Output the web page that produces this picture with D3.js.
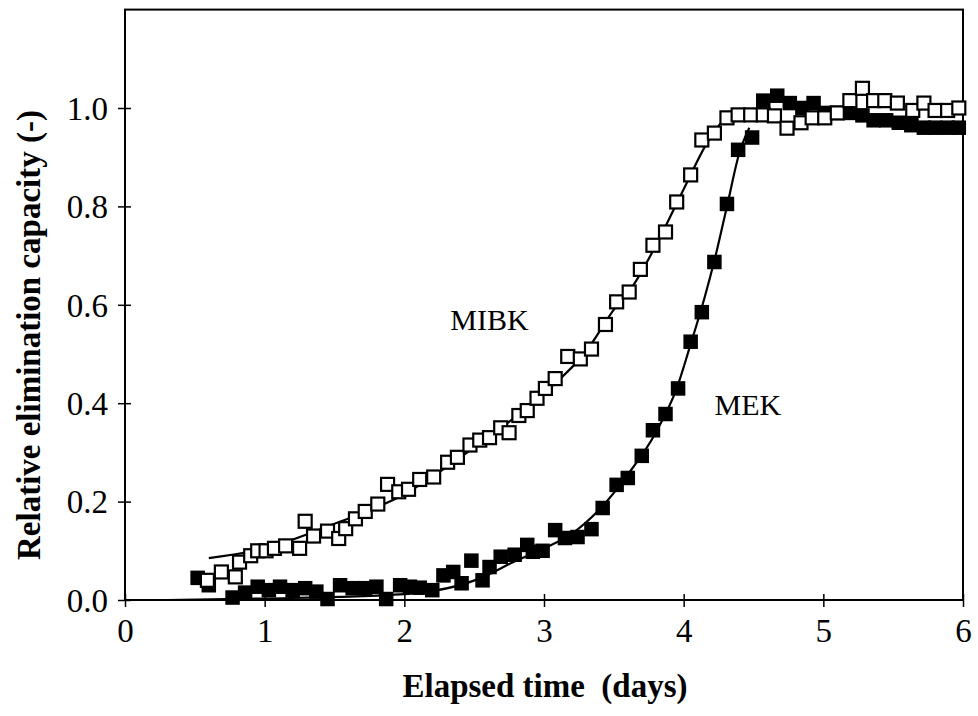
<!DOCTYPE html>
<html>
<head>
<meta charset="utf-8">
<script src="https://cdn.jsdelivr.net/npm/d3@7"></script>
<style>
  html, body { margin: 0; padding: 0; background: #fff; }
  svg { display: block; }
  text { font-family: "Liberation Serif", "Times New Roman", serif; fill: #000; white-space: pre; }
</style>
</head>
<body>
<svg id="chart" width="978" height="716"></svg>
<script>
// ---- Data ----
const xTicks = [0, 1, 2, 3, 4, 5, 6];
const yTicks = [0.0, 0.2, 0.4, 0.6, 0.8, 1.0];

// MIBK (open squares)
const mibkX = [0.59,0.69,0.79,0.82,0.90,0.95,1.01,1.07,1.15,1.25,1.29,1.35,1.45,1.53,1.58,1.65,1.72,1.81,1.88,1.96,
  2.03,2.11,2.21,2.31,2.38,2.47,2.54,2.61,2.69,2.75,2.82,2.88,2.95,3.01,3.08,3.17,3.26,3.34,3.44,3.52,
  3.61,3.69,3.78,3.87,3.95,4.05,4.13,4.22,4.31,4.39,4.48,4.57,4.65,4.74,4.84,4.92,5.01,5.10,5.19,5.28,
  5.36,5.44,5.53,5.64,5.72,5.80,5.89,5.97];
const mibkY = [0.04,0.057,0.047,0.077,0.09,0.10,0.10,0.105,0.11,0.105,0.16,0.13,0.14,0.125,0.145,0.165,0.18,0.195,0.235,0.22,
  0.225,0.245,0.25,0.28,0.29,0.315,0.325,0.33,0.35,0.34,0.375,0.385,0.41,0.43,0.45,0.495,0.49,0.51,0.56,0.606,
  0.626,0.672,0.721,0.748,0.809,0.864,0.935,0.949,0.98,0.986,0.986,0.986,0.984,0.959,0.97,0.98,0.98,0.99,1.015,1.04,
  1.015,1.015,1.01,0.995,1.01,0.995,0.995,1.0];

// MEK (filled squares)
const mekX = [0.52,0.60,0.77,0.86,0.95,1.03,1.11,1.20,1.29,1.37,1.45,1.54,1.63,1.72,1.80,1.87,1.97,2.04,2.11,2.20,
  2.28,2.35,2.41,2.48,2.56,2.61,2.69,2.79,2.88,2.92,2.99,3.08,3.15,3.24,3.34,3.42,3.52,3.60,3.70,3.78,
  3.87,3.96,4.05,4.13,4.22,4.31,4.39,4.49,4.57,4.67,4.76,4.85,4.93,5.02,5.10,5.19,5.28,5.36,5.45,5.54,
  5.63,5.72,5.80,5.89,5.97];
const mekY = [0.045,0.03,0.005,0.015,0.027,0.02,0.027,0.02,0.024,0.017,0.002,0.03,0.024,0.024,0.027,0.002,0.03,0.027,0.025,0.02,
  0.05,0.057,0.034,0.08,0.04,0.067,0.088,0.092,0.112,0.098,0.10,0.142,0.126,0.128,0.144,0.187,0.234,0.248,0.293,0.345,
  0.378,0.43,0.525,0.585,0.687,0.805,0.915,0.94,1.015,1.025,1.01,1.0,1.01,0.99,0.99,0.99,0.985,0.975,0.975,0.97,
  0.965,0.96,0.96,0.96,0.96];

// Fitted curves
const mibkFitX = [0.60,1.0,1.5,2.0,2.5,3.0,3.3,3.5,3.64,3.8,4.0,4.17,4.27,4.4,4.55];
const mibkFitY = [0.085,0.105,0.155,0.215,0.31,0.42,0.505,0.59,0.64,0.72,0.835,0.93,0.97,0.985,0.99];
const mekFitX = [0.30,1.0,2.0,2.55,2.8,3.0,3.2,3.4,3.6,3.8,3.95,4.05,4.15,4.22,4.31,4.40,4.47];
const mekFitY = [0.0,0.003,0.012,0.045,0.08,0.105,0.135,0.185,0.255,0.34,0.43,0.52,0.615,0.69,0.80,0.91,0.96];

const labels = [
  { text: "MIBK", x: 2.61, y: 0.549 },
  { text: "MEK", x: 4.46, y: 0.376 }
];

// ---- Layout ----
const svg = d3.select("#chart");
const plotLeft = 125, plotRight = 963, plotBottom = 600;
const x = d3.scaleLinear().domain([0, 6]).range([plotLeft, plotRight]);
const y = d3.scaleLinear().domain([0, 1]).range([plotBottom, 108]);
const plotTop = y(1.2);

// frame
svg.append("rect")
  .attr("x", plotLeft).attr("y", plotTop)
  .attr("width", plotRight - plotLeft).attr("height", plotBottom - plotTop)
  .attr("fill", "none").attr("stroke", "#000").attr("stroke-width", 2);

// axes
const xAxis = d3.axisBottom(x).tickValues(xTicks).tickFormat(d3.format("d")).tickSizeInner(7).tickSizeOuter(0).tickPadding(12);
const gx = svg.append("g").attr("transform", `translate(0,${plotBottom})`).call(xAxis);
gx.select(".domain").remove();
gx.selectAll(".tick line").attr("y1", -6).attr("y2", 7).attr("stroke-width", 1.5);
gx.selectAll(".tick text").style("font-size", "33px").attr("dy", "0.71em");

const yAxis = d3.axisLeft(y).tickValues(yTicks).tickFormat(d3.format(".1f")).tickSizeInner(7).tickSizeOuter(0).tickPadding(10);
const gy = svg.append("g").attr("transform", `translate(${plotLeft},0)`).call(yAxis);
gy.select(".domain").remove();
gy.selectAll(".tick line").attr("x1", -7).attr("x2", 6).attr("stroke-width", 1.5);
gy.selectAll(".tick text").style("font-size", "33px").attr("dy", "0.34em");

// axis titles
svg.append("text")
  .attr("x", 545).attr("y", 697)
  .attr("text-anchor", "middle")
  .style("font-size", "33px").style("font-weight", "bold")
  .text("Elapsed time  (days)");
svg.append("text")
  .attr("transform", "translate(40,335) rotate(-90)")
  .attr("text-anchor", "middle")
  .style("font-size", "33px").style("font-weight", "bold")
  .text("Relative elimination capacity (-)");

// fitted curves
const line = d3.line().x(d => x(d[0])).y(d => y(d[1])).curve(d3.curveMonotoneX);
svg.append("path").datum(d3.zip(mekFitX, mekFitY)).attr("d", line)
  .attr("fill", "none").attr("stroke", "#000").attr("stroke-width", 2.2);
svg.append("path").datum(d3.zip(mibkFitX, mibkFitY)).attr("d", line)
  .attr("fill", "none").attr("stroke", "#000").attr("stroke-width", 2.2);

// markers
const s = 13;
svg.append("g").selectAll("rect").data(d3.zip(mekX, mekY)).join("rect")
  .attr("x", d => x(d[0]) - s / 2).attr("y", d => y(d[1]) - s / 2)
  .attr("width", s).attr("height", s)
  .attr("fill", "#000").attr("stroke", "#000").attr("stroke-width", 1.5);
svg.append("g").selectAll("rect").data(d3.zip(mibkX, mibkY)).join("rect")
  .attr("x", d => x(d[0]) - s / 2).attr("y", d => y(d[1]) - s / 2)
  .attr("width", s).attr("height", s)
  .attr("fill", "#fff").attr("stroke", "#000").attr("stroke-width", 2.2);

// series labels
svg.append("g").selectAll("text").data(labels).join("text")
  .attr("x", d => x(d.x)).attr("y", d => y(d.y))
  .attr("text-anchor", "middle")
  .style("font-size", "30px")
  .text(d => d.text);
</script>
</body>
</html>
